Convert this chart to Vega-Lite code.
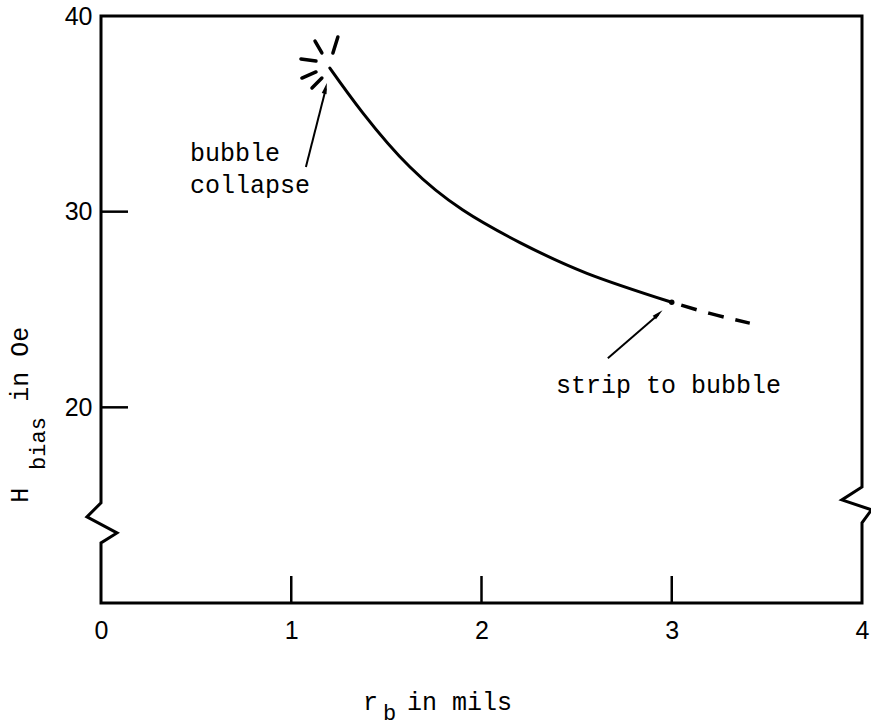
{
  "$schema": "https://vega.github.io/schema/vega-lite/v6.json",
  "autosize": "none",
  "width": 761,
  "height": 587,
  "padding": {"left": 101, "top": 16, "right": 9, "bottom": 123},
  "background": "white",
  "config": {"view": {"stroke": null}},
  "datasets": {
    "frame": [
      {"i": 0, "x": 0, "y": 40},
      {"i": 1, "x": 0, "y": 15.12},
      {"i": 2, "x": -0.074, "y": 14.4},
      {"i": 3, "x": 0.084, "y": 13.58},
      {"i": 4, "x": 0, "y": 13.07},
      {"i": 5, "x": 0, "y": 10},
      {"i": 6, "x": 4, "y": 10},
      {"i": 7, "x": 4, "y": 14.1},
      {"i": 8, "x": 4.05, "y": 14.76},
      {"i": 9, "x": 3.894, "y": 15.27},
      {"i": 10, "x": 4, "y": 15.93},
      {"i": 11, "x": 4, "y": 40},
      {"i": 12, "x": 0, "y": 40}
    ],
    "ticks": [
      {"x": 1, "y": 10, "x2": 1, "y2": 11.38},
      {"x": 2, "y": 10, "x2": 2, "y2": 11.38},
      {"x": 3, "y": 10, "x2": 3, "y2": 11.38},
      {"x": 0, "y": 30, "x2": 0.142, "y2": 30},
      {"x": 0, "y": 20, "x2": 0.142, "y2": 20}
    ],
    "curve": [
      {"x": 1.203, "y": 37.34},
      {"x": 1.377, "y": 35.04},
      {"x": 1.624, "y": 32.28},
      {"x": 1.902, "y": 30.08},
      {"x": 2.202, "y": 28.42},
      {"x": 2.554, "y": 26.85},
      {"x": 3.0, "y": 25.37}
    ],
    "junction": [
      {"x": 3.0, "y": 25.37}
    ],
    "extension": [
      {"x": 3.05, "y": 25.22},
      {"x": 3.2, "y": 24.8},
      {"x": 3.41, "y": 24.3}
    ],
    "burst": [
      {"x": 1.125, "y": 38.72, "x2": 1.161, "y2": 38.11},
      {"x": 1.245, "y": 38.93, "x2": 1.219, "y2": 38.11},
      {"x": 1.051, "y": 37.8, "x2": 1.13, "y2": 37.7},
      {"x": 1.056, "y": 36.83, "x2": 1.13, "y2": 37.14},
      {"x": 1.109, "y": 36.32, "x2": 1.161, "y2": 36.83}
    ],
    "shafts": [
      {"x": 1.077, "y": 32.28, "x2": 1.182, "y2": 36.3},
      {"x": 2.664, "y": 22.51, "x2": 2.93, "y2": 24.75}
    ],
    "heads": [
      {"x": 1.18, "y": 36.3, "dir": 14},
      {"x": 2.93, "y": 24.78, "dir": 48}
    ],
    "notes": [
      {"x": 0.468, "y": 33.0, "t": "bubble"},
      {"x": 0.468, "y": 31.36, "t": "collapse"},
      {"x": 2.392, "y": 21.14, "t": "strip to bubble"},
      {"x": 1.377, "y": 4.95, "t": "r"},
      {"x": 1.608, "y": 4.95, "t": "in mils"}
    ],
    "subs": [
      {"x": 1.482, "y": 4.38, "t": "b"}
    ],
    "vnotes": [
      {"x": -0.426, "y": 15.12, "t": "H"},
      {"x": -0.426, "y": 20.28, "t": "in Oe"}
    ],
    "vsubs": [
      {"x": -0.331, "y": 16.8, "t": "bias"}
    ]
  },
  "encoding": {
    "x": {
      "field": "x",
      "type": "quantitative",
      "scale": {"domain": [0, 4], "nice": false, "zero": false},
      "axis": {
        "values": [0, 1, 2, 3, 4],
        "format": "d",
        "domain": false,
        "ticks": false,
        "grid": false,
        "title": null,
        "labelFont": "Liberation Sans",
        "labelFontSize": 25,
        "labelColor": "black",
        "labelPadding": 15,
        "labelFlush": false,
        "labelOverlap": false,
        "labelBound": false
      }
    },
    "y": {
      "field": "y",
      "type": "quantitative",
      "scale": {"domain": [10, 40], "nice": false, "zero": false},
      "axis": {
        "values": [20, 30, 40],
        "format": "d",
        "domain": false,
        "ticks": false,
        "grid": false,
        "title": null,
        "labelFont": "Liberation Sans",
        "labelFontSize": 25,
        "labelColor": "black",
        "labelPadding": 9,
        "labelFlush": false,
        "labelOverlap": false,
        "labelBound": false
      }
    }
  },
  "layer": [
    {
      "data": {"name": "frame"},
      "mark": {"type": "line", "color": "black", "strokeWidth": 3, "strokeJoin": "miter", "strokeCap": "square"},
      "encoding": {"order": {"field": "i", "type": "quantitative"}}
    },
    {
      "data": {"name": "ticks"},
      "mark": {"type": "rule", "color": "black", "strokeWidth": 2.5},
      "encoding": {"x2": {"field": "x2"}, "y2": {"field": "y2"}}
    },
    {
      "data": {"name": "curve"},
      "mark": {"type": "line", "color": "black", "strokeWidth": 3, "interpolate": "natural", "strokeCap": "round"},
      "encoding": {}
    },
    {
      "data": {"name": "junction"},
      "mark": {"type": "point", "shape": "circle", "filled": true, "color": "black", "size": 30, "opacity": 1},
      "encoding": {}
    },
    {
      "data": {"name": "extension"},
      "mark": {"type": "line", "color": "black", "strokeWidth": 3.5, "interpolate": "monotone", "strokeDash": [16, 12]},
      "encoding": {}
    },
    {
      "data": {"name": "burst"},
      "mark": {"type": "rule", "color": "black", "strokeWidth": 3.5, "strokeCap": "round"},
      "encoding": {"x2": {"field": "x2"}, "y2": {"field": "y2"}}
    },
    {
      "data": {"name": "shafts"},
      "mark": {"type": "rule", "color": "black", "strokeWidth": 2},
      "encoding": {"x2": {"field": "x2"}, "y2": {"field": "y2"}}
    },
    {
      "data": {"name": "heads"},
      "mark": {"type": "point", "shape": "M0,-1L0.45,1L-0.45,1Z", "filled": true, "color": "black", "size": 120, "opacity": 1},
      "encoding": {"angle": {"field": "dir", "type": "quantitative", "scale": null}}
    },
    {
      "data": {"name": "notes"},
      "mark": {"type": "text", "align": "left", "baseline": "middle", "font": "Liberation Mono", "fontSize": 25, "color": "black"},
      "encoding": {"text": {"field": "t"}}
    },
    {
      "data": {"name": "subs"},
      "mark": {"type": "text", "align": "left", "baseline": "middle", "font": "Liberation Mono", "fontSize": 22, "color": "black"},
      "encoding": {"text": {"field": "t"}}
    },
    {
      "data": {"name": "vnotes"},
      "mark": {"type": "text", "align": "left", "baseline": "middle", "angle": 270, "font": "Liberation Mono", "fontSize": 25, "color": "black"},
      "encoding": {"text": {"field": "t"}}
    },
    {
      "data": {"name": "vsubs"},
      "mark": {"type": "text", "align": "left", "baseline": "middle", "angle": 270, "font": "Liberation Mono", "fontSize": 22, "color": "black"},
      "encoding": {"text": {"field": "t"}}
    }
  ]
}
